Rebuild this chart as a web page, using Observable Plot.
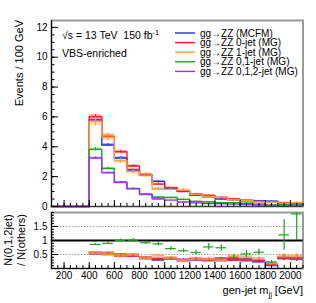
<!DOCTYPE html>
<html><head><meta charset="utf-8">
<script src="https://cdn.jsdelivr.net/npm/d3@7"></script>
<script src="https://cdn.jsdelivr.net/npm/@observablehq/plot@0.6"></script>
<style>
body{margin:0;background:#fff;}
#c{position:relative;width:316px;height:303px;font-family:"Liberation Sans",Arial,sans-serif;}
#c svg{position:absolute;left:0;overflow:visible;}
</style></head><body><div id="c"></div>
<script>
// bin lower edges (GeV), 100 GeV wide bins
const binLow = [400,500,600,700,800,900,1000,1100,1200,1300,1400,1500,1600,1700,1800,1900,2000];
const seriesNames = ["gg\u2192ZZ (MCFM)","gg\u2192ZZ 0-jet (MG)","gg\u2192ZZ 1-jet (MG)","gg\u2192ZZ 0,1-jet (MG)","gg\u2192ZZ 0,1,2-jet (MG)"];
const seriesColors = ["#1f2eff","#ff1a1a","#ffa040","#20a020","#9b30ff"];
// events / 100 GeV
const mcfm   = [5.80,4.12,3.25,2.45,2.10,1.68,1.21,1.00,0.75,0.65,0.50,0.45,0.38,0.38,0.35,0.20,0.20];
const jet0   = [6.02,4.70,3.67,2.71,2.13,1.50,1.25,1.02,0.83,0.74,0.60,0.50,0.43,0.33,0.30,0.25,0.25];
const jet1   = [5.70,4.65,3.07,2.35,2.10,1.17,1.15,1.10,0.80,0.68,0.60,0.45,0.40,0.30,0.28,0.22,0.25];
const jet01  = [3.83,2.55,1.61,1.20,0.83,0.62,0.60,0.48,0.34,0.30,0.25,0.25,0.22,0.15,0.10,0.12,0.12];
const jet012 = [3.25,2.26,1.62,1.18,0.80,0.50,0.43,0.30,0.24,0.20,0.18,0.16,0.13,0.10,0.08,0.07,0.08];
// stat. uncertainties
const mcfmErr   = [0.12,0.10,0.09,0.08,0.07,0.06,0.05,0.05,0.04,0.04,0.04,0.03,0.03,0.03,0.03,0.03,0.03];
const jet0Err   = [0.14,0.12,0.10,0.09,0.08,0.07,0.06,0.05,0.05,0.05,0.04,0.04,0.04,0.03,0.03,0.03,0.03];
const jet1Err   = [0.30,0.25,0.20,0.18,0.15,0.12,0.10,0.10,0.08,0.08,0.07,0.06,0.06,0.05,0.05,0.05,0.05];
const jet01Err  = [0.10,0.08,0.06,0.05,0.04,0.04,0.03,0.03,0.03,0.03,0.02,0.02,0.02,0.02,0.02,0.02,0.02];
const jet012Err = [0.07,0.06,0.05,0.04,0.03,0.03,0.02,0.02,0.02,0.02,0.02,0.02,0.01,0.01,0.01,0.01,0.01];
// ratio N(0,1,2jet)/N(others)
const rMcfm  = [0.55,0.55,0.50,0.48,0.38,0.32,0.36,0.30,0.33,0.32,0.35,0.33,0.33,0.26,0.13,0.38,0.35];
const rJet0  = [0.56,0.52,0.46,0.46,0.38,0.34,0.36,0.30,0.34,0.30,0.30,0.32,0.30,0.28,0.15,0.38,0.38];
const rJet1  = [0.57,0.53,0.48,0.50,0.38,0.47,0.38,0.28,0.36,0.34,0.30,0.44,0.42,0.36,0.20,0.45,0.45];
const rJet01 = [0.86,0.90,1.00,1.01,0.92,0.88,0.71,0.63,0.57,0.77,0.74,0.40,0.52,0.58,0.23,1.20,1.95];
const rErrOther = [0.02,0.02,0.02,0.03,0.03,0.03,0.04,0.04,0.05,0.05,0.05,0.06,0.06,0.07,0.08,0.10,0.10];
const rJet01Err = [0.03,0.04,0.05,0.06,0.06,0.07,0.07,0.07,0.08,0.12,0.12,0.10,0.12,0.12,0.06,0.55,0.95];
// axis ticks
const xTickLabels = [200,400,600,800,1000,1200,1400,1600,1800,2000];
const yTicksUpper = [0,2,4,6,8,10,12];
const yTicksRatio = [0.5,1,1.5];

const vals = [mcfm, jet0, jet1, jet01, jet012];
const errs = [mcfmErr, jet0Err, jet1Err, jet01Err, jet012Err];
const ratios = [rMcfm, rJet0, rJet1, rJet01];

const stepPts = [], bands = [];
vals.forEach((v, s) => {
  [100,200,300].forEach(x => stepPts.push({s, x, y: 0}));
  binLow.forEach((x, i) => {
    stepPts.push({s, x, y: v[i]});
    bands.push({s, x1: x, x2: x + 100, xc: x + 50, y: v[i], lo: v[i] - errs[s][i], hi: v[i] + errs[s][i]});
  });
  stepPts.push({s, x: 2100, y: v[v.length - 1]});
});
const rpts = [];
ratios.forEach((r, s) => binLow.forEach((x, i) => {
  const e = s === 3 ? rJet01Err[i] : rErrOther[i];
  rpts.push({s, x1: x, x2: x + 100, xc: x + 50, y: r[i], lo: Math.max(0, r[i] - e), hi: Math.min(2, r[i] + e)});
}));

const color = s => seriesColors[s];
const font = '"Liberation Sans",Arial,sans-serif';
const W = 316, ML = 51, MR = 13.5;

const upper = Plot.plot({
  width: W, height: 212, marginTop: 20, marginBottom: 6, marginLeft: ML, marginRight: MR,
  x: {domain: [100, 2100]},
  y: {domain: [0, 12.46]},
  style: {fontFamily: font, fontSize: "10px", color: "#000", background: "transparent", overflow: "visible"},
  marks: [
    Plot.frame({stroke: "#9a9a9a", strokeWidth: 2}),
    Plot.rect(bands, {x1: "x1", x2: "x2", y1: "lo", y2: "hi", fill: d => color(d.s), fillOpacity: 0.35}),
    ...[0,1,2,3,4].map(s => Plot.line(stepPts.filter(d => d.s === s), {x: "x", y: "y", curve: "step-after", stroke: color(s), strokeWidth: 1.4})),
    Plot.ruleX(bands, {x: "xc", y1: "lo", y2: "hi", stroke: d => color(d.s), strokeWidth: 1}),
    Plot.ruleX([100], {stroke: "#000"}),
    Plot.ruleY([0], {stroke: "#000", strokeOpacity: 0.6}),
    Plot.axisY({ticks: yTicksUpper, tickSize: 0, tickPadding: 4, label: null, fontSize: 10}),
    Plot.axisY({ticks: yTicksUpper, tickSize: -7, tickFormat: () => "", label: null}),
    Plot.axisY({ticks: d3.range(0, 12.46, 0.5), tickSize: -3.5, tickFormat: () => "", label: null}),
    Plot.axisX({ticks: xTickLabels, tickSize: -6, tickFormat: () => "", label: null}),
    Plot.axisX({ticks: d3.range(100, 2101, 50), tickSize: -3, tickFormat: () => "", label: null})
  ]
});
upper.style.top = "0px";

const lower = Plot.plot({
  width: W, height: 97, marginTop: 6, marginBottom: 35, marginLeft: ML, marginRight: MR,
  x: {domain: [100, 2100]},
  y: {domain: [0, 2]},
  style: {fontFamily: font, fontSize: "10px", color: "#000", background: "transparent", overflow: "visible"},
  marks: [
    Plot.frame({stroke: "#9a9a9a", strokeWidth: 2}),
    Plot.ruleY([0.5, 1.5], {stroke: "#888", strokeDasharray: "1.5,1.5", strokeWidth: 0.8}),
    Plot.ruleY([1], {stroke: "#000", strokeWidth: 1.8}),
    Plot.ruleY(rpts.filter(d => d.s < 3), {y: "y", x1: "x1", x2: "x2", stroke: d => color(d.s), strokeWidth: 3, strokeOpacity: 0.75}),
    Plot.ruleX(rpts.filter(d => d.s < 3), {x: "xc", y1: "lo", y2: "hi", stroke: d => color(d.s), strokeWidth: 1}),
    Plot.ruleY(rpts.filter(d => d.s === 3), {y: "y", x1: d => d.x1 + 8, x2: d => d.x2 - 8, stroke: color(3), strokeWidth: 1.2}),
    Plot.ruleX(rpts.filter(d => d.s === 3), {x: "xc", y1: "lo", y2: "hi", stroke: color(3), strokeWidth: 1.2}),
    Plot.ruleX([100], {stroke: "#000"}),
    Plot.ruleY([0], {stroke: "#000"}),
    Plot.axisY({ticks: yTicksRatio, tickSize: 0, tickPadding: 4, tickFormat: d => String(d), label: null, fontSize: 10}),
    Plot.axisY({ticks: yTicksRatio, tickSize: -7, tickFormat: () => "", label: null}),
    Plot.axisY({ticks: d3.range(0, 2.001, 0.1), tickSize: -3, tickFormat: () => "", label: null}),
    Plot.axisX({ticks: xTickLabels, tickSize: 0, tickPadding: 3, tickFormat: d => String(d), label: null, fontSize: 10}),
    Plot.axisX({ticks: xTickLabels, tickSize: -6, tickFormat: () => "", label: null}),
    Plot.axisX({ticks: d3.range(100, 2101, 50), tickSize: -3, tickFormat: () => "", label: null})
  ]
});
lower.style.top = "206px";

const c = document.getElementById("c");
c.appendChild(upper);
c.appendChild(lower);

// annotations, legend and axis titles (upper svg)
const su = d3.select(upper);
const g = su.append("g").attr("font-family", font).attr("fill", "#000").attr("text-anchor", "start");
g.append("text").attr("x", 62).attr("y", 39).attr("font-size", 10.5).attr("text-anchor", "start")
  .html('\u221As = 13 TeV  150 fb<tspan dy="-4" font-size="7.5">-1</tspan>');
g.append("text").attr("x", 62).attr("y", 57).attr("font-size", 10.5).attr("text-anchor", "start").text("VBS-enriched");
g.append("text").attr("transform", "translate(23,20) rotate(-90)").attr("text-anchor", "end")
  .attr("font-size", 11).text("Events / 100 GeV");
const legY = [33, 42.6, 52.2, 61.8, 71.4];
seriesNames.forEach((n, i) => {
  g.append("line").attr("x1", 175).attr("x2", 195).attr("y1", legY[i]).attr("y2", legY[i])
    .attr("stroke", seriesColors[i]).attr("stroke-width", 1.4);
  g.append("text").attr("x", 200).attr("y", legY[i] + 3.6).attr("font-size", 10).attr("text-anchor", "start").text(n);
});

const sl = d3.select(lower);
const g2 = sl.append("g").attr("font-family", font).attr("fill", "#000");
g2.append("text").attr("transform", "translate(12,34) rotate(-90)").attr("text-anchor", "middle")
  .attr("font-size", 11).text("N(0,1,2jet)");
g2.append("text").attr("transform", "translate(25,34) rotate(-90)").attr("text-anchor", "middle")
  .attr("font-size", 11).text("/ N(others)");
g2.append("text").attr("x", 303).attr("y", 88).attr("text-anchor", "end").attr("font-size", 11)
  .html('gen-jet m<tspan dy="3" font-size="7.5">jj</tspan><tspan dy="-3"> [GeV]</tspan>');
</script>
</body></html>
